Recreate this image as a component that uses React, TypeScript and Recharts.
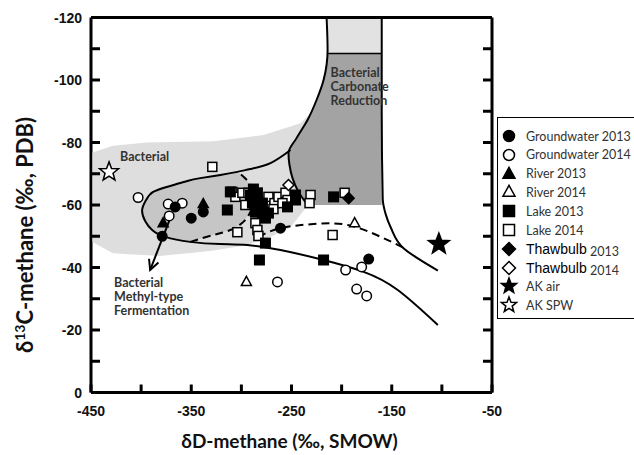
import React from "react";
import { ScatterChart, Scatter, XAxis, YAxis, Legend, ReferenceDot } from "recharts";

type Pt = { x: number; y: number };
const pts = (a: number[][]): Pt[] => a.map(([x, y]) => ({ x, y }));

// axis ticks
const xTicks = [-450, -400, -350, -300, -250, -200, -150, -100, -50];
const xLabels = [-450, -350, -250, -150, -50];
const yTicks = [-120, -110, -100, -90, -80, -70, -60, -50, -40, -30, -20, -10, 0];
const yLabels = [-120, -100, -80, -60, -40, -20, 0];

// measured samples (dD, d13C)
const gw13 = pts([[-379, -50], [-366, -59.4], [-350, -55.8], [-338, -57.8], [-261, -52.6], [-173, -42.7]]);
const gw14 = pts([[-403, -62.4], [-373, -60.3], [-359, -60.6], [-372, -56.5], [-196, -39.2], [-180, -40.2], [-185, -33.1], [-175, -30.9], [-264, -35.4]]);
const river13 = pts([[-378, -54.2], [-338, -60.3]]);
const river14 = pts([[-295, -35.4], [-187, -54.2]]);
const lake13 = pts([
  [-314, -58.4], [-311, -64.2], [-288, -65.1], [-284, -63.9], [-289, -60.6], [-283, -59.0], [-279, -57.4],
  [-276, -55.8], [-286, -57.7], [-291, -63.2], [-279, -60.6], [-273, -57.4], [-254, -59.4], [-246, -61.6],
  [-246, -63.2], [-276, -47.8], [-282, -42.4], [-208, -62.6], [-218, -42.4],
]);
const lake14 = pts([
  [-329, -72.2], [-309, -64.2], [-306, -62.6], [-299, -63.9], [-293, -63.9], [-291, -61.6], [-296, -60.0],
  [-284, -61.9], [-276, -60.6], [-273, -62.6], [-267, -60.6], [-268, -58.7], [-263, -62.6], [-256, -63.9],
  [-254, -61.6], [-259, -60.6], [-286, -54.2], [-284, -52.0], [-283, -50.1], [-304, -51.3], [-231, -63.2],
  [-232, -60.6], [-197, -63.9], [-209, -50.4],
]);
const thaw13 = pts([[-193, -62.2]]);
const thaw14 = pts([[-253, -66.4]]);
const akAir = pts([[-103, -47.5]]);
const akSpw = pts([[-432, -70.6]]);

// genetic field outlines
const bacterialField = pts([
  [-448.5, -76.8], [-428, -79.0], [-394, -80.0], [-328, -80.4], [-278, -82.4], [-241, -86.2], [-228, -90.4],
  [-216, -80.6], [-221, -61.4], [-236, -59.0], [-251, -52.9], [-271, -49.8], [-294, -47.2], [-331, -45.3],
  [-381, -43.7], [-428, -44.6], [-448.5, -48.2],
]);
const methylField = pts([
  [-304, -70.6], [-321, -69.6], [-341, -68.6], [-354, -67.7], [-371, -66.1], [-388, -64.2], [-395, -61.6],
  [-399, -58.4], [-396, -54.9], [-389, -52.0], [-376, -49.8], [-351, -48.2], [-328, -50.4], [-311, -52.0],
  [-298, -54.6], [-291, -57.8], [-287, -61.6], [-289, -65.4], [-296, -68.5],
]);
const carbonateField = pts([
  [-214, -108.5], [-160, -108.5], [-160, -60], [-234, -60], [-243, -64.2], [-249, -68.6], [-252, -72.8],
  [-253, -76.6], [-245, -81.4], [-234, -87.2], [-225, -93.6], [-218, -100],
]);
const carbonateTop = pts([[-215, -119.5], [-160, -119.5], [-160, -108.5], [-214, -108.5]]);
const carbonateCurve = pts([
  [-215, -120], [-214, -109.6], [-218, -100], [-225, -93.6], [-234, -87.2], [-245, -81.4], [-253, -76.6],
  [-252, -72.8], [-249, -68.6], [-243, -64.2], [-234, -60],
]);
const carbonateRight = pts([[-160, -120], [-160, -90], [-159, -62], [-156, -57], [-151, -52.8], [-138, -46.1], [-124, -42.9], [-104, -39.0]]);
const carbonateSplit = pts([[-214, -108.5], [-160, -108.5]]);
const mainCurve = pts([
  [-251, -77.6], [-271, -73.4], [-291, -71.5], [-304, -70.6], [-321, -69.6], [-341, -68.6], [-354, -67.7],
  [-371, -66.1], [-388, -64.2], [-395, -61.6], [-399, -58.4], [-396, -54.9], [-389, -52.0], [-376, -49.8],
  [-351, -48.2], [-321, -47.5], [-294, -47.2], [-261, -45.6], [-218, -42.4], [-178, -38.6], [-144, -32.8],
  [-104, -21.6],
]);
const methylDash = pts([
  [-351, -48.2], [-328, -50.4], [-311, -52.0], [-298, -54.6], [-291, -57.8], [-287, -61.6], [-289, -65.4],
  [-296, -68.5], [-304, -70.6],
]);
const transitionDash = pts([[-283, -49.8], [-261, -52.6], [-228, -53.9], [-194, -53.6], [-161, -49.8], [-138, -46.3]]);
const arrowShaft = pts([[-369, -57.4], [-391, -39.2]]);
const arrowHead = pts([[-382.7, -41.6], [-391, -39.2], [-392.1, -42.8]]);

type Kind = "circle" | "square" | "triangle" | "diamond" | "star";

function Mark({ kind, filled, cx, cy, s }: { kind: Kind; filled: boolean; cx: number; cy: number; s: number }) {
  const p = { fill: filled ? "#000" : "#fff", stroke: "#000", strokeWidth: 1.5 };
  const h = s / 2;
  if (kind === "circle") return <circle cx={cx} cy={cy} r={h} {...p} />;
  if (kind === "square") return <rect x={cx - h} y={cy - h} width={s} height={s} {...p} />;
  if (kind === "triangle")
    return <polygon points={`${cx},${cy - h * 1.1} ${cx + h},${cy + h * 0.7} ${cx - h},${cy + h * 0.7}`} {...p} />;
  if (kind === "diamond")
    return <polygon points={`${cx},${cy - h} ${cx + h},${cy} ${cx},${cy + h} ${cx - h},${cy}`} {...p} />;
  const v: string[] = [];
  for (let i = 0; i < 10; i++) {
    const r = i % 2 === 0 ? h : h * 0.42;
    const a = -Math.PI / 2 + (i * Math.PI) / 5;
    v.push(`${cx + r * Math.cos(a)},${cy + r * Math.sin(a)}`);
  }
  return <polygon points={v.join(" ")} {...p} />;
}

const series = [
  { name: "Lake 2014", data: lake14, kind: "square" as Kind, filled: false, s: 9 },
  { name: "Lake 2013", data: lake13, kind: "square" as Kind, filled: true, s: 9.5 },
  { name: "Groundwater 2014", data: gw14, kind: "circle" as Kind, filled: false, s: 9.5 },
  { name: "Groundwater 2013", data: gw13, kind: "circle" as Kind, filled: true, s: 9.5 },
  { name: "River 2014", data: river14, kind: "triangle" as Kind, filled: false, s: 10 },
  { name: "River 2013", data: river13, kind: "triangle" as Kind, filled: true, s: 10 },
  { name: "Thawbulb 2014", data: thaw14, kind: "diamond" as Kind, filled: false, s: 11 },
  { name: "Thawbulb 2013", data: thaw13, kind: "diamond" as Kind, filled: true, s: 11 },
  { name: "AK air", data: akAir, kind: "star" as Kind, filled: true, s: 22 },
  { name: "AK SPW", data: akSpw, kind: "star" as Kind, filled: false, s: 20 },
];

const legendRows = [
  { label: "Groundwater", year: "2013", kind: "circle" as Kind, filled: true, s: 11 },
  { label: "Groundwater", year: "2014", kind: "circle" as Kind, filled: false, s: 11 },
  { label: "River", year: "2013", kind: "triangle" as Kind, filled: true, s: 12 },
  { label: "River", year: "2014", kind: "triangle" as Kind, filled: false, s: 12 },
  { label: "Lake", year: "2013", kind: "square" as Kind, filled: true, s: 11 },
  { label: "Lake", year: "2014", kind: "square" as Kind, filled: false, s: 11 },
  { label: "Thawbulb", year: "2013", kind: "diamond" as Kind, filled: true, s: 13 },
  { label: "Thawbulb", year: "2014", kind: "diamond" as Kind, filled: false, s: 13 },
  { label: "AK", year: "air", kind: "star" as Kind, filled: true, s: 16 },
  { label: "AK", year: "SPW", kind: "star" as Kind, filled: false, s: 16 },
];

const noDot = () => <g />;
const ink = "#000";
const tickFont = { fontFamily: "Liberation Sans", fontWeight: 700, fontSize: 14, fill: "#111" };
const noteFont = { fontFamily: "Lato", fontWeight: 700, fontSize: 12.5, fill: "#333" };

function outline(key: string, data: Pt[], line: any, joint: string) {
  return (
    <Scatter
      key={key}
      data={data}
      shape={noDot}
      line={line}
      lineJointType={joint as any}
      isAnimationActive={false}
      legendType="none"
    />
  );
}

const BottomTick = (p: any) => (
  <g>
    <line x1={p.x} y1={p.y} x2={p.x} y2={p.y - 8} stroke={ink} strokeWidth={3} />
    {xLabels.includes(p.payload.value) && (
      <text x={p.x} y={p.y + 23} textAnchor="middle" {...tickFont}>{p.payload.value}</text>
    )}
  </g>
);
const TopTick = (p: any) => <line x1={p.x} y1={p.y} x2={p.x} y2={p.y + 8} stroke={ink} strokeWidth={3} />;
const LeftTick = (p: any) => (
  <g>
    <line x1={p.x} y1={p.y} x2={p.x + 9} y2={p.y} stroke={ink} strokeWidth={3} />
    {yLabels.includes(p.payload.value) && (
      <text x={p.x - 9} y={p.y + 5} textAnchor="end" {...tickFont}>{p.payload.value}</text>
    )}
  </g>
);
const RightTick = (p: any) => <line x1={p.x} y1={p.y} x2={p.x - 9} y2={p.y} stroke={ink} strokeWidth={3} />;

const textAt = (lines: string[]) => (p: any) => (
  <text x={p.cx} y={p.cy} {...noteFont}>
    {lines.map((t, i) => (
      <tspan key={t} x={p.cx} dy={i === 0 ? 4 : 14}>{t}</tspan>
    ))}
  </text>
);

const LegendBox = () => (
  <div
    style={{
      position: "relative",
      width: 150,
      height: 202,
      border: "1px solid #000",
      boxSizing: "border-box",
      background: "#fff",
    }}
  >
    {legendRows.map((r, i) => (
      <div key={i} style={{ position: "absolute", left: 0, top: 8 + i * 18.8, height: 20, display: "flex", alignItems: "center" }}>
        <svg width={22} height={20}>
          <Mark kind={r.kind} filled={r.filled} cx={11} cy={10} s={r.s} />
        </svg>
        {r.label === "Thawbulb" ? (
          <span style={{ marginLeft: 6, fontFamily: "Liberation Sans", fontSize: 14, color: "#000", whiteSpace: "pre" }}>
            {r.label}
            <span style={{ fontFamily: "Lato", fontSize: 12.5, color: "#333", position: "relative", top: 2 }}> {r.year}</span>
          </span>
        ) : (
          <span style={{ marginLeft: 6, fontFamily: "Lato", fontSize: 12.5, color: "#333", whiteSpace: "pre" }}>
            {r.label} {r.year}
          </span>
        )}
      </div>
    ))}
  </div>
);

export default function App() {
  return (
    <div style={{ position: "absolute", left: 0, top: 0, width: 634, height: 455, overflow: "hidden", background: "#fff" }}>
      <ScatterChart width={634} height={455} margin={{ top: 7.5, right: 132, bottom: 32.5, left: 61 }}>
        {outline("bact", bacterialField, { fill: "#dedede", stroke: "none" }, "linear")}
        {outline("methyl", methylField, { fill: "#c6c6c6", stroke: "none" }, "linear")}
        {outline("carb", carbonateField, { fill: "#a3a3a3", stroke: "none" }, "linear")}
        {outline("carbTop", carbonateTop, { fill: "#e2e2e2", stroke: "none" }, "linear")}
        {outline("carbCurve", carbonateCurve, { stroke: ink, strokeWidth: 2, fill: "none" }, "monotoneY")}
        {outline("carbRight", carbonateRight, { stroke: ink, strokeWidth: 2, fill: "none" }, "monotoneY")}
        {outline("carbSplit", carbonateSplit, { stroke: ink, strokeWidth: 1.5, fill: "none" }, "linear")}
        {outline("main", mainCurve, { stroke: ink, strokeWidth: 2, fill: "none" }, "natural")}
        {outline("methylDash", methylDash, { stroke: ink, strokeWidth: 2, fill: "none", strokeDasharray: "8 5" }, "natural")}
        {outline("transDash", transitionDash, { stroke: ink, strokeWidth: 2, fill: "none", strokeDasharray: "8 5" }, "natural")}
        {outline("arrow", arrowShaft, { stroke: ink, strokeWidth: 2, fill: "none" }, "linear")}
        {outline("arrowHead", arrowHead, { stroke: ink, strokeWidth: 2, fill: "none" }, "linear")}

        <ReferenceDot x={-421} y={-75.4} r={0} shape={textAt(["Bacterial"])} />
        <ReferenceDot x={-211} y={-102.2} r={0} shape={textAt(["Bacterial", "Carbonate", "Reduction"])} />
        <ReferenceDot x={-427} y={-35.0} r={0} shape={textAt(["Bacterial", "Methyl-type", "Fermentation"])} />

        {series.map((s) => (
          <Scatter
            key={s.name}
            name={s.name}
            data={s.data}
            isAnimationActive={false}
            shape={(p: any) => <Mark kind={s.kind} filled={s.filled} cx={p.cx} cy={p.cy} s={s.s} />}
          />
        ))}

        <XAxis
          type="number"
          dataKey="x"
          domain={[-450, -50]}
          ticks={xTicks}
          interval={0}
          allowDataOverflow
          height={30}
          tickSize={0}
          tickMargin={0}
          tickLine={false}
          tick={BottomTick}
          axisLine={{ stroke: ink, strokeWidth: 3 }}
          label={{
            content: (p: any) => (
              <text
                x={p.viewBox.x + p.viewBox.width / 2 - 2}
                y={p.viewBox.y + 55}
                textAnchor="middle"
                fontFamily="Lato"
                fontWeight={700}
                fontSize={19}
                fill="#111"
              >
                δD-methane (‰, SMOW)
              </text>
            ),
          }}
        />
        <XAxis
          xAxisId="top"
          orientation="top"
          type="number"
          domain={[-450, -50]}
          ticks={xTicks}
          interval={0}
          allowDataOverflow
          height={10}
          tickSize={0}
          tickMargin={0}
          tickLine={false}
          tick={TopTick}
          axisLine={{ stroke: ink, strokeWidth: 3 }}
        />
        <YAxis
          type="number"
          dataKey="y"
          domain={[-120, 0]}
          reversed
          ticks={yTicks}
          interval={0}
          allowDataOverflow
          width={30}
          tickSize={0}
          tickMargin={0}
          tickLine={false}
          tick={LeftTick}
          axisLine={{ stroke: ink, strokeWidth: 3 }}
          label={{
            content: (p: any) => {
              const cx = p.viewBox.x - 28;
              const cy = p.viewBox.y + p.viewBox.height / 2 + 30;
              return (
                <text
                  x={cx}
                  y={cy}
                  transform={`rotate(-90, ${cx}, ${cy})`}
                  textAnchor="middle"
                  fontFamily="Lato"
                  fontWeight={700}
                  fontSize={22}
                  fill="#111"
                >
                  δ<tspan dy={-8} fontSize={14}>13</tspan>
                  <tspan dy={8}>C-methane (‰, PDB)</tspan>
                </text>
              );
            },
          }}
        />
        <YAxis
          yAxisId="right"
          orientation="right"
          type="number"
          domain={[-120, 0]}
          reversed
          ticks={yTicks}
          interval={0}
          allowDataOverflow
          width={10}
          tickSize={0}
          tickMargin={0}
          tickLine={false}
          tick={RightTick}
          axisLine={{ stroke: ink, strokeWidth: 3 }}
        />
        <Legend
          layout="vertical"
          align="center"
          verticalAlign="middle"
          wrapperStyle={{ left: 497, top: 117, width: 150 }}
          content={() => <LegendBox />}
        />
      </ScatterChart>
    </div>
  );
}
